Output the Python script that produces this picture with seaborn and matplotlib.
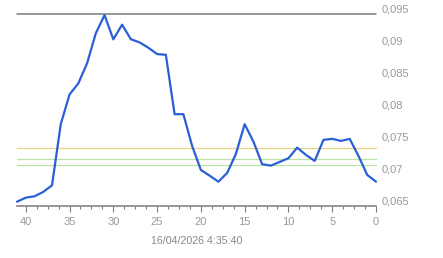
import numpy as np
import pandas as pd
import seaborn as sns
import matplotlib
matplotlib.use("Agg")
import matplotlib.pyplot as plt
from matplotlib.ticker import MultipleLocator, FuncFormatter

# ---- data ----
x_vals = list(range(41, -1, -1))
y_vals = [0.06567, 0.0663, 0.06652, 0.0672, 0.06824, 0.0778, 0.08243, 0.08415,
          0.08728, 0.09198, 0.09484, 0.09104, 0.09333, 0.09106, 0.09056, 0.08973,
          0.08874, 0.08863, 0.07935, 0.07935, 0.07439, 0.07063, 0.06974, 0.0688,
          0.07016, 0.07314, 0.07779, 0.07506, 0.07153, 0.07131, 0.07189, 0.07246,
          0.07412, 0.07298, 0.07204, 0.07533, 0.07549, 0.07517, 0.07549, 0.07282,
          0.06985, 0.0688]
ref_levels = [0.074, 0.0723, 0.07137]
ref_colors = ["#e8d284", "#b9e2a6", "#b9e2a6"]
x_ticks = [40, 35, 30, 25, 20, 15, 10, 5, 0]
y_ticks = [0.065, 0.07, 0.075, 0.08, 0.085, 0.09, 0.095]
date_label = "16/04/2026 4:35:40"

df = pd.DataFrame({"x": x_vals, "y": y_vals})

sns.set_theme(style="white")
plt.rcParams["font.family"] = ["Liberation Sans", "DejaVu Sans"]

fig = plt.figure(figsize=(4.43, 2.58), dpi=100)
ax = fig.add_axes([17 / 443, 1 - 206 / 258, (376 - 17) / 443, (206 - 14) / 258])

for lvl, c in zip(ref_levels, ref_colors):
    ax.axhline(lvl, color=c, lw=0.9, zorder=1)
ax.axhline(0.095, color="#7a7a7a", lw=1.1, zorder=1, clip_on=False)

sns.lineplot(data=df, x="x", y="y", ax=ax, color="#2a5fd6", lw=1.6, zorder=3)
for l in ax.lines:
    l.set_clip_on(False)

ax.set_xlim(41, 0)
ax.set_ylim(0.065, 0.095)
for s in ["top", "left", "right"]:
    ax.spines[s].set_visible(False)
ax.spines["bottom"].set_color("#7a7a7a")
ax.spines["bottom"].set_linewidth(1.1)

ax.set_xticks(x_ticks)
ax.xaxis.set_minor_locator(MultipleLocator(1.25))
ax.tick_params(axis="x", which="major", bottom=True, length=4, width=0.8,
               color="#7a7a7a", labelsize=8, labelcolor="#999999", pad=4)
ax.tick_params(axis="x", which="minor", bottom=True, length=2, width=0.8,
               color="#7a7a7a")

ax.yaxis.tick_right()
ax.set_yticks(y_ticks)
ax.yaxis.set_major_formatter(FuncFormatter(lambda v, p: f"{v:g}".replace(".", ",")))
ax.tick_params(axis="y", which="both", right=False, left=False, length=0,
               labelsize=8, labelcolor="#999999", pad=4)
for lab in ax.get_yticklabels():
    lab.set_verticalalignment("bottom")

ax.set_xlabel(date_label, fontsize=7.7, color="#888888", labelpad=6.5)
ax.set_ylabel("")
ax.grid(False)

fig.savefig("out.png", dpi=100)
